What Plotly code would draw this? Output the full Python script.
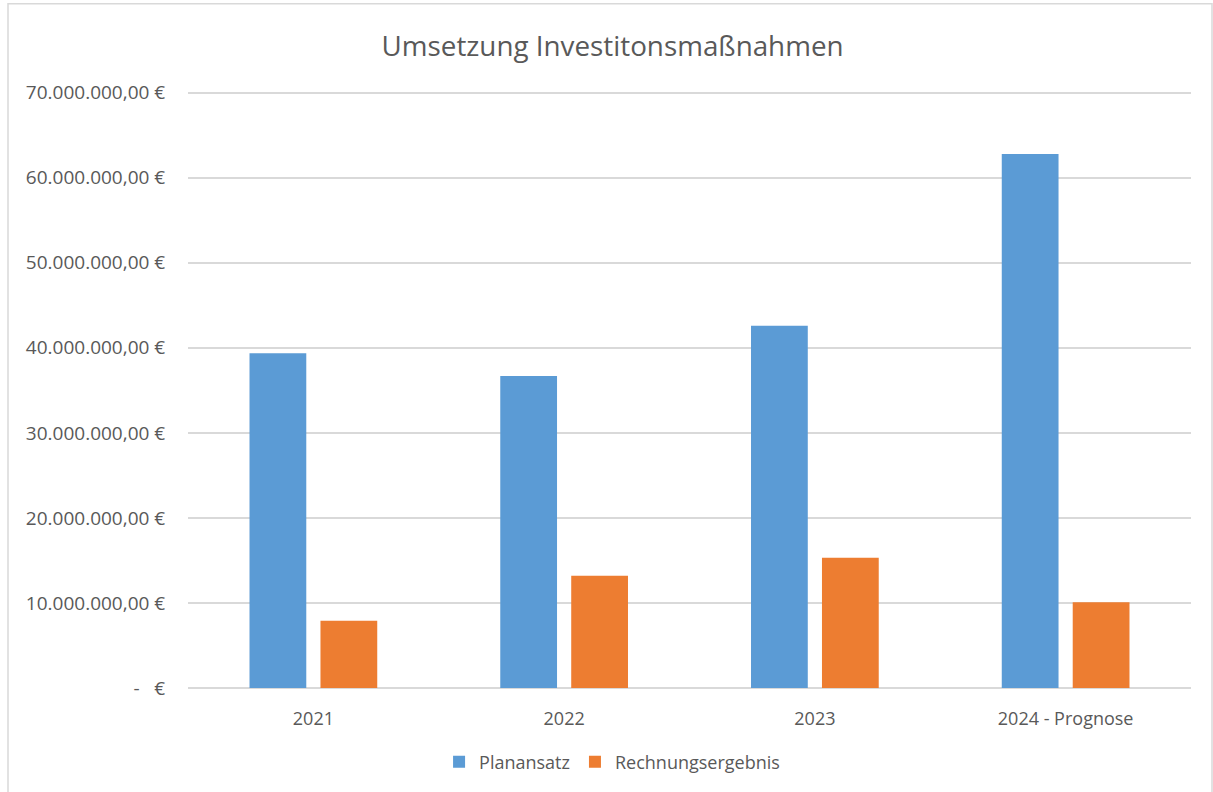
import plotly.graph_objects as go

categories = ["2021", "2022", "2023", "2024 - Prognose"]
planansatz = [39.35e6, 36.7e6, 42.6e6, 62.8e6]
rechnungsergebnis = [7.92e6, 13.2e6, 15.33e6, 10.08e6]
tick_vals = [0, 10e6, 20e6, 30e6, 40e6, 50e6, 60e6, 70e6]
tick_text = ["-   €", "10.000.000,00 €", "20.000.000,00 €", "30.000.000,00 €",
             "40.000.000,00 €", "50.000.000,00 €", "60.000.000,00 €", "70.000.000,00 €"]

FONT = "Open Sans"
GRAY = "#595959"

fig = go.Figure()
fig.add_trace(go.Bar(name="Planansatz", x=categories, y=planansatz,
                     marker=dict(color="#5B9BD5", line=dict(width=0))))
fig.add_trace(go.Bar(name="Rechnungsergebnis", x=categories, y=rechnungsergebnis,
                     marker=dict(color="#ED7D31", line=dict(width=0))))

fig.update_layout(
    width=1213, height=792,
    margin=dict(l=188, r=22, t=91.3, b=104),
    paper_bgcolor="white", plot_bgcolor="white",
    barmode="group", bargap=0.434, bargroupgap=0.2,
    font=dict(family=FONT, color=GRAY),
    title=dict(text="Umsetzung Investitonsmaßnahmen", x=0.505, xanchor="center",
               y=1 - 46 / 792, yref="container", yanchor="middle",
               font=dict(size=27.8, color=GRAY, family=FONT)),
    showlegend=True,
    legend=dict(orientation="h", x=0.4228, xanchor="center", y=-0.124, yanchor="middle",
                font=dict(size=18, color=GRAY), itemwidth=30, traceorder="normal"),
    yaxis=dict(range=[0, 70.2e6], tickvals=tick_vals, ticktext=tick_text,
               showgrid=True, gridcolor="#d9d9d9", gridwidth=1.5,
               zeroline=True, zerolinecolor="#d9d9d9", zerolinewidth=1.5,
               showline=False, ticks="outside", ticklen=18, tickcolor="white",
               tickfont=dict(size=19, color=GRAY), fixedrange=True),
    xaxis=dict(showline=False, ticks="outside", ticklen=14, tickcolor="white",
               tickfont=dict(size=18, color=GRAY), showgrid=False),
    shapes=[dict(type="rect", xref="paper", yref="paper",
                 x0=(8 - 188) / 1003, x1=(1212 - 188) / 1003,
                 y0=(688 - 800) / 595, y1=(688 - 6) / 595,
                 line=dict(color="#d9d9d9", width=1.5), fillcolor="rgba(0,0,0,0)",
                 layer="below")],
)

fig.write_html("out.html", config={"displayModeBar": False},
               post_script="document.body.style.margin='0';")
